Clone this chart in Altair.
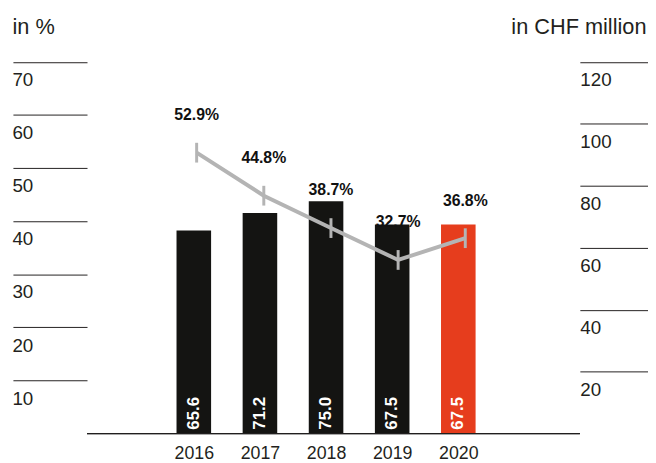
import altair as alt
import pandas as pd

years = [2016, 2017, 2018, 2019, 2020]
dividend_chf = [65.6, 71.2, 75.0, 67.5, 67.5]
payout_pct = [52.9, 44.8, 38.7, 32.7, 36.8]
left_ticks = [10, 20, 30, 40, 50, 60, 70]
right_ticks = [20, 40, 60, 80, 100, 120]

df = pd.DataFrame({"year": years, "chf": dividend_chf, "pct": payout_pct})
df["chf_label"] = [f"{v:.1f}" for v in dividend_chf]
df["pct_label"] = [f"{v:.1f}%" for v in payout_pct]

FONT = "Liberation Sans"
TXT = "#231f20"
W, H = 648, 428
STEP = 68.0          # px per year
X0 = 186.0           # px position of first year
xdom = [years[0] - X0 / STEP, years[0] + (W - X0) / STEP]
shift = 5.0 / STEP
xdom_line = [xdom[0] - shift, xdom[1] - shift]

x_bar = alt.X("year:Q", scale=alt.Scale(domain=xdom, nice=False, zero=False),
              axis=alt.Axis(values=years, format="d", domain=False, ticks=False,
                            grid=False, labelFont=FONT, labelFontSize=18,
                            labelColor=TXT, labelBaseline="alphabetic",
                            labelPadding=25, title=None))
y_chf = alt.Y("chf:Q", scale=alt.Scale(domain=[0, 136.5], nice=False, zero=True),
              axis=alt.Axis(orient="right", values=right_ticks, domain=False, grid=False,
                            offset=-69, tickSize=69, tickColor=TXT, tickWidth=1,
                            labelFont=FONT, labelFontSize=19, labelColor=TXT,
                            labelAlign="left", labelBaseline="alphabetic",
                            labelPadding=-69, labelOffset=24,
                            title="in CHF million", titleAngle=0, titleAlign="right",
                            titleBaseline="alphabetic", titleX=67, titleY=23,
                            titleFont=FONT, titleFontSize=22, titleFontWeight="normal",
                            titleColor=TXT))

bars = alt.Chart(df).mark_bar(size=35).encode(
    x=x_bar, y=y_chf,
    color=alt.condition(alt.datum.year == 2020, alt.value("#e63d1d"), alt.value("#141412")),
)
bar_labels = alt.Chart(df).mark_text(
    angle=270, align="left", baseline="middle", dx=4, font=FONT,
    fontSize=17, fontWeight="bold", color="white"
).encode(x=alt.X("year:Q"), y=alt.datum(0), text="chf_label:N")
baseline = alt.Chart(df).mark_rule(color=TXT, strokeWidth=1).encode(
    x=alt.value(80), x2=alt.value(579), y=alt.value(H))

right = alt.layer(bars, bar_labels, baseline)

x_line = alt.X("year:Q", scale=alt.Scale(domain=xdom_line, nice=False, zero=False), axis=None)
y_pct = alt.Y("pct:Q", scale=alt.Scale(domain=[0, 79.6], nice=False, zero=True),
              axis=alt.Axis(orient="left", values=left_ticks, domain=False, grid=False,
                            offset=-80, tickSize=75, tickColor=TXT, tickWidth=1,
                            labelFont=FONT, labelFontSize=19, labelColor=TXT,
                            labelAlign="left", labelBaseline="alphabetic",
                            labelPadding=1, labelOffset=24,
                            title="in %", titleAngle=0, titleAlign="left",
                            titleBaseline="alphabetic", titleX=-76, titleY=23,
                            titleFont=FONT, titleFontSize=22, titleFontWeight="normal",
                            titleColor=TXT))

line = alt.Chart(df).mark_line(color="#b4b4b4", strokeWidth=4).encode(x=x_line, y=y_pct)
marks = alt.Chart(df).mark_point(shape="M0,-1L0,1", size=400, strokeWidth=3,
                                 color="#b4b4b4", opacity=1, filled=False).encode(
    x=alt.X("year:Q"), y=alt.Y("pct:Q"))
pct_labels = alt.Chart(df).mark_text(
    baseline="middle", align="center", dy=-38, font=FONT, fontSize=16,
    fontWeight="bold", color="#111111"
).encode(x=alt.X("year:Q"), y=alt.Y("pct:Q"), text="pct_label:N")

left = alt.layer(line, marks, pct_labels)

chart = alt.layer(right, left).resolve_scale(y="independent", x="independent").properties(
    width=W, height=H,
    autosize=alt.AutoSizeParams(type="none"),
    padding={"left": 0, "top": 0, "right": 0, "bottom": 40},
    title=alt.TitleParams("Payout", anchor="start", fontSize=22, fontWeight="bold",
                          font=FONT, color=TXT, offset=4, dx=4, baseline="alphabetic"),
).configure_view(stroke=None)

chart.save("out.html", embed_options={"renderer": "svg", "actions": False})
